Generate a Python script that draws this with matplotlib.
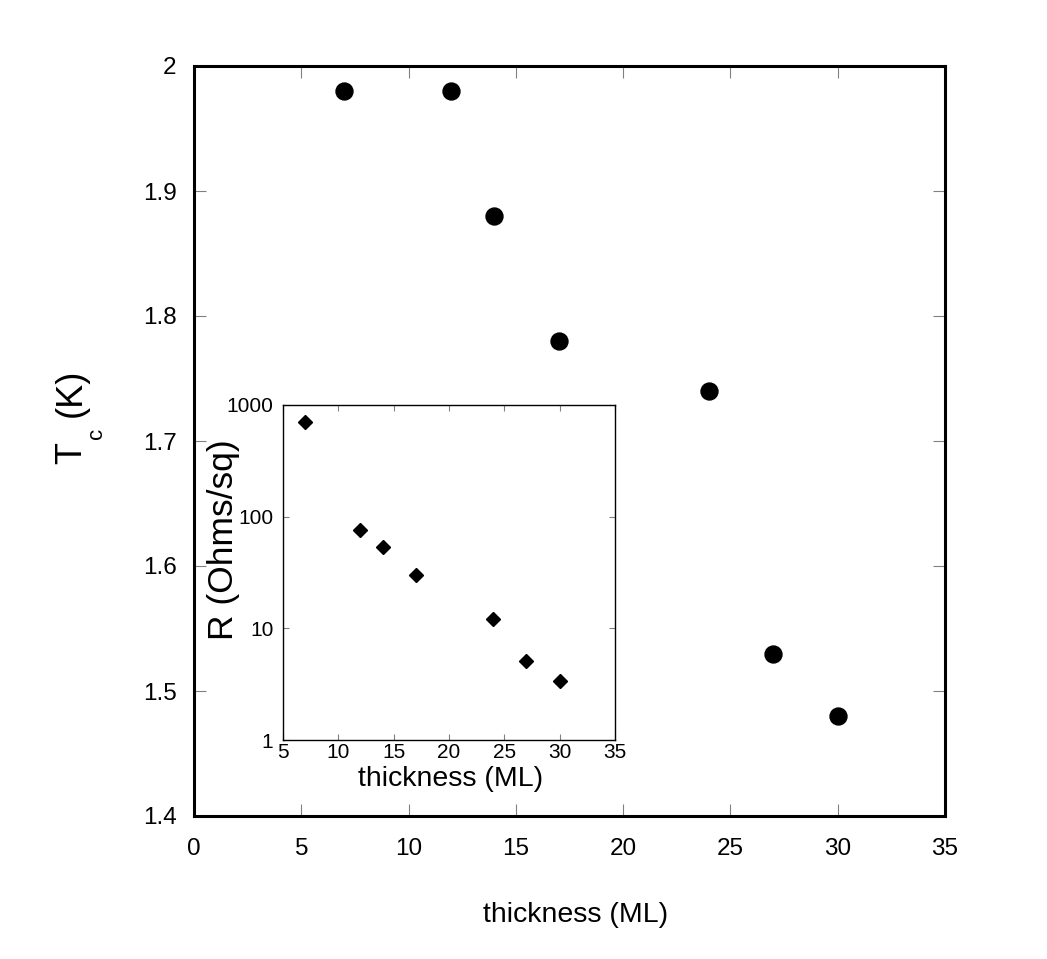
import numpy as np
import matplotlib.pyplot as plt

plt.rcParams['font.family'] = ['Liberation Sans', 'DejaVu Sans']

# Tc versus film thickness (main panel)
thickness = [7, 12, 14, 17, 24, 27, 30]
tc = [1.98, 1.98, 1.88, 1.78, 1.74, 1.53, 1.48]

# sheet resistance versus thickness (inset)
r_thickness = [7, 12, 14, 17, 24, 27, 30]
resistance = [700, 76, 54, 30, 12, 5.1, 3.4]

main_yticks = [1.4, 1.5, 1.6, 1.7, 1.8, 1.9, 2.0]
main_ylabels = ['1.4', '1.5', '1.6', '1.7', '1.8', '1.9', '2']
main_xticks = [0, 5, 10, 15, 20, 25, 30, 35]
inset_xticks = [5, 10, 15, 20, 25, 30, 35]
inset_yticks = [1, 10, 100, 1000]
inset_ylabels = ['1', '10', '100', '1000']

W, H = 1047, 959
fig = plt.figure(figsize=(W / 100, H / 100), dpi=100)

def fx(px):
    return px / W

def fy(py):
    return 1 - py / H

#Main panel
ax = fig.add_axes([fx(194), fy(816), fx(945 - 194), (816 - 66) / H])
ax.plot(thickness, tc, 'o', color='black', markersize=12.2, linestyle='none')
ax.set_xlim(0, 35)
ax.set_ylim(1.4, 2.0)
ax.set_xticks(main_xticks)
ax.set_yticks(main_yticks)
ax.set_yticklabels(main_ylabels)
for s in ax.spines.values():
    s.set_linewidth(2.2)
ax.tick_params(direction='in', length=8.5, width=0.8, color='#808080',
               top=True, right=True, labelsize=17.5)
ax.tick_params(axis='x', pad=16)
ax.tick_params(axis='y', pad=12.5)

#Main axis labels, placed by hand like the original (subscript well below)
fig.text(fx(576), fy(922), 'thickness (ML)', fontsize=20.5,
         ha='center', va='baseline')
fig.text(fx(81), fy(464), 'T', fontsize=26, rotation=90,
         rotation_mode='anchor', ha='left', va='baseline')
fig.text(fx(102), fy(439), 'c', fontsize=16, rotation=90,
         rotation_mode='anchor', ha='left', va='baseline')
fig.text(fx(81), fy(417), '(K)', fontsize=26, rotation=90,
         rotation_mode='anchor', ha='left', va='baseline')

#Inset
ins = fig.add_axes([fx(283), fy(740), fx(615 - 283), (740 - 405) / H])
ins.plot(r_thickness, resistance, 'D', color='black', markersize=7.5,
         linestyle='none')
ins.set_yscale('log')
ins.set_xlim(5, 35)
ins.set_ylim(1, 1000)
ins.set_xticks(inset_xticks)
ins.set_yticks(inset_yticks)
ins.set_yticklabels(inset_ylabels)
ins.yaxis.set_minor_locator(plt.NullLocator())
for s in ins.spines.values():
    s.set_linewidth(1.0)
ins.tick_params(direction='in', length=4, width=0.8, color='#808080',
                top=True, right=True, labelsize=15)
ins.tick_params(axis='x', pad=2)
ins.tick_params(axis='y', pad=7)

fig.text(fx(451), fy(786), 'thickness (ML)', fontsize=20.5,
         ha='center', va='baseline')
fig.text(fx(233), fy(540), 'R (Ohms/sq)', fontsize=25.5, rotation=90,
         rotation_mode='anchor', ha='center', va='baseline')

fig.savefig('out.png', dpi=100)
